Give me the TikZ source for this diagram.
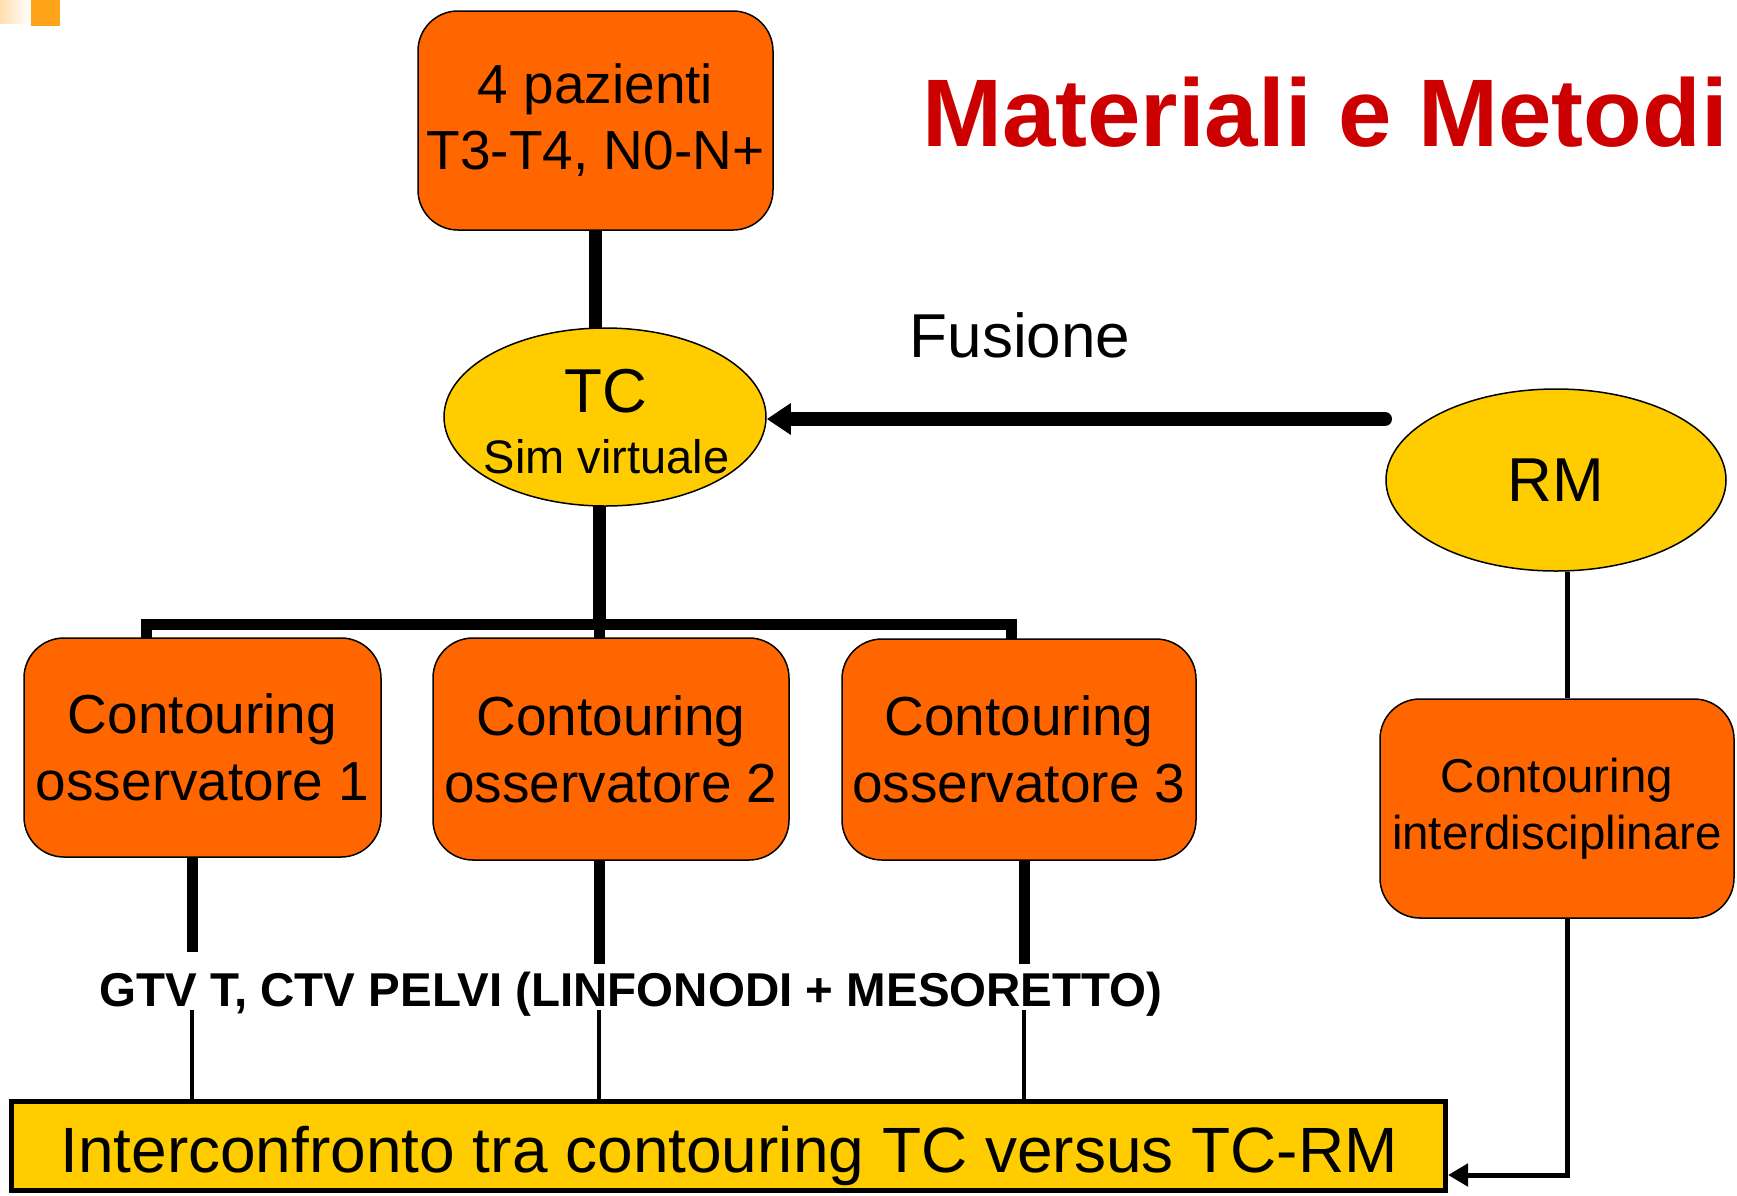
\documentclass[tikz,border=0pt]{standalone}
\usepackage{fontspec}
\setmainfont{Liberation Sans}
\usetikzlibrary{arrows.meta,shapes.geometric}
\definecolor{orangeF}{HTML}{FF6600}
\definecolor{goldF}{HTML}{FFCC00}
\definecolor{titleR}{HTML}{CC0000}
\definecolor{cornerC}{HTML}{FFA319}
\newcommand\myfs[2]{\fontsize{#1}{#2}\selectfont}
\begin{document}
\begin{tikzpicture}[x=1pt,y=-1pt,
  obox/.style={draw=black,line width=1.5pt,fill=orangeF,rounded corners=40pt,inner sep=0pt,align=center},
  ell/.style={ellipse,draw=black,line width=1.5pt,fill=goldF,inner sep=0pt},
  conn/.style={line width=13pt},
  bus/.style={line width=11pt,line join=miter},
  thinl/.style={line width=4pt},
  side/.style={line width=5pt,line join=miter},
  txt/.style={inner sep=0pt,anchor=base}
]
\useasboundingbox (0,0) rectangle (1737,1195);
% corner decoration
\shade[left color=cornerC!35,right color=white] (0,0) rectangle (31,23);
\fill[cornerC] (31,0) rectangle (60,26);

% coordinates
\coordinate (bm) at (599,624);
\coordinate (bl) at (146,624);
\coordinate (br) at (1011,624);
\coordinate (t1) at (192,952);
\coordinate (u1) at (192,1010);
\coordinate (t2) at (599,964);
\coordinate (u2) at (599,1010);
\coordinate (t3) at (1024,964);
\coordinate (u3) at (1024,1010);
\coordinate (xr) at (1567,0);
\coordinate (yarr) at (0,1175);
\coordinate (fs) at (1385,419);

% lines below nodes
\draw[conn] (595.5,225) -- (595.5,335);
\draw[conn] (bm) ++(0,-170) -- (bm);
\draw[bus] (bl) ++(0,20) -- (bl) -- (br) -- ++(0,20);
\draw[bus] (bm) -- ++(0,20);

% nodes
\node[obox,minimum width=355pt,minimum height=219pt,font=\myfs{55}{66}] (pz) at (595.5,120.5) {4 pazienti\\T3-T4, N0-N+};
\node[ell,minimum width=322pt,minimum height=178pt] (tc) at (605,417) {};
\node[txt] (tcl) at (606,412) {\myfs{62}{62}TC};
\node[txt] (siml) at (606.5,473) {\myfs{47}{56}Sim virtuale};
\node[ell,minimum width=340pt,minimum height=182pt] (rm) at (1556,480) {\myfs{62}{62}RM};

\node[obox,minimum width=357pt,minimum height=219pt,font=\myfs{55}{67}] (c1) at (202.5,747.5) {Contouring\\osservatore 1};
\node[obox,minimum width=356pt,minimum height=222pt,font=\myfs{55}{67}] (c2) at (611,749) {Contouring\\osservatore 2};
\node[obox,minimum width=354pt,minimum height=221pt,font=\myfs{55}{67}] (c3) at (1019,749.5) {Contouring\\osservatore 3};
\node[obox,minimum width=354pt,minimum height=219pt,font=\myfs{47.5}{57}] (c4) at (1557,808.5) {Contouring\\interdisciplinare};

\node[draw=black,line width=5pt,fill=goldF,inner sep=0pt,minimum width=1434pt,minimum height=89pt] (bot) at (728.5,1146) {};
\node[txt] (botl) at (729,1172) {\myfs{64}{64}Interconfronto tra contouring TC versus TC-RM};

% connectors
\draw[line width=14pt,line cap=round,-{Triangle[length=24pt,width=30pt]}] (fs) -- (tc.east |- fs);
\draw[side] (xr |- rm.south) -- (xr |- c4.north);
\draw[side,-{Triangle[length=20pt,width=22pt]}] (xr |- c4.south) -- (xr |- yarr) -- (bot.east |- yarr);

\draw[bus] (t1 |- c1.south) -- (t1);
\draw[bus] (t2 |- c2.south) -- (t2);
\draw[bus] (t3 |- c3.south) -- (t3);
\draw[thinl] (u1) -- (u1 |- bot.north);
\draw[thinl] (u2) -- (u2 |- bot.north);
\draw[thinl] (u3) -- (u3 |- bot.north);

% texts
\node[txt,text=titleR] (title) at (1325,146) {\myfs{96}{96}\bfseries Materiali e Metodi};
\node[txt] (fus) at (1020,357) {\myfs{62}{62}Fusione};
\node[txt] (gtv) at (631,1006) {\myfs{47.5}{50}\bfseries GTV T, CTV PELVI (LINFONODI + MESORETTO)};
\end{tikzpicture}
\end{document}
